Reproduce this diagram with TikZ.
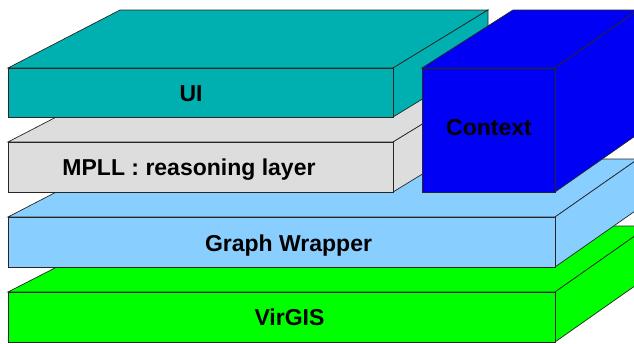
\documentclass[tikz,border=0pt]{standalone}
\usepackage{fontspec}
\setmainfont{Liberation Sans}
\definecolor{uiteal}{RGB}{0,176,176}
\definecolor{mpllgray}{RGB}{221,221,221}
\definecolor{wrapblue}{RGB}{136,207,255}
\definecolor{gisgreen}{RGB}{0,255,0}
\definecolor{ctxblue}{RGB}{0,0,245}
\tikzset{
  face/.style={draw=black!85, line width=0.7pt, line join=miter},
  layertext/.style={font=\bfseries\fontsize{23}{27}\selectfont, text=black, inner sep=0pt, anchor=base}
}
\begin{document}
\begin{tikzpicture}[x=1pt,y=-1pt]
\useasboundingbox (0,0) rectangle (634,343);
\clip (0,0) rectangle (634,343);

% VirGIS slab (bottom)
\fill[gisgreen, face] (8,292) -- (137,226) -- (649,226) -- (555,292) -- cycle;
\fill[gisgreen, face] (555,292) -- (649,226) -- (649,276) -- (555,342) -- cycle;
\fill[gisgreen, face] (8,292) rectangle (555,342);
\node[layertext] (virgis) at (289.5,325) {VirGIS};

% Graph Wrapper slab
\fill[wrapblue, face] (8,217) -- (120,159) -- (638,159) -- (555,217) -- cycle;
\fill[wrapblue, face] (555,217) -- (638,159) -- (638,209) -- (555,267) -- cycle;
\fill[wrapblue, face] (8,217) rectangle (555,267);
\node[layertext] (wrapper) at (288.5,251) {Graph Wrapper};

% MPLL slab
\fill[mpllgray, face] (8,142) -- (120,84) -- (488,84) -- (393,142) -- cycle;
\fill[mpllgray, face] (393,142) -- (488,84) -- (488,134) -- (393,192) -- cycle;
\fill[mpllgray, face] (8,142) rectangle (393,192);
\node[layertext] (mpll) at (189,175) {MPLL : reasoning layer};

% UI slab (top)
\fill[uiteal, face] (8,68) -- (120,10) -- (488,10) -- (393,68) -- cycle;
\fill[uiteal, face] (393,68) -- (488,10) -- (488,59) -- (393,117) -- cycle;
\fill[uiteal, face] (8,68) rectangle (393,117);
\node[layertext] (ui) at (191,101) {UI};

% Context block standing on the wrapper
\fill[ctxblue, face] (422,68) -- (513,10) -- (638,10) -- (555,68) -- cycle;
\fill[ctxblue, face] (555,68) -- (638,10) -- (638,134) -- (555,192) -- cycle;
\fill[ctxblue, face] (422,68) rectangle (555,192);
\node[layertext] (context) at (489,135) {Context};
\end{tikzpicture}
\end{document}
